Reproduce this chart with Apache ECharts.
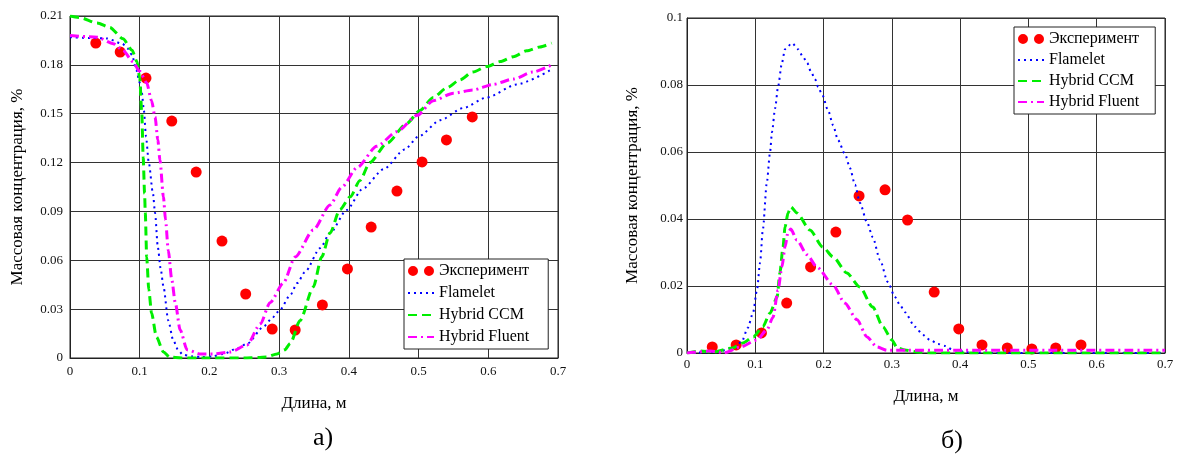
<!DOCTYPE html>
<html>
<head>
<meta charset="utf-8">
<script src="https://cdn.jsdelivr.net/npm/echarts@6/dist/echarts.min.js"></script>
<style>
  html, body { margin: 0; padding: 0; background: #fff; }
  #graph { width: 1180px; height: 460px; }
</style>
</head>
<body>
<div id="graph"></div>
<script>
// experiment points, same x positions on both plots
var expX = [0.037, 0.072, 0.109, 0.146, 0.181, 0.218, 0.252, 0.29, 0.323, 0.362, 0.398, 0.432, 0.469, 0.505, 0.54, 0.577];
var expLeftY = [0.1934, 0.1879, 0.1719, 0.1455, 0.1142, 0.0718, 0.0393, 0.0178, 0.0172, 0.0326, 0.0547, 0.0804, 0.1025, 0.1204, 0.1339, 0.148];
var expRightY = [0.0018, 0.0024, 0.006, 0.0149, 0.0257, 0.0361, 0.0469, 0.0487, 0.0397, 0.0182, 0.0072, 0.0024, 0.0015, 0.0012, 0.0015, 0.0024];

// plot а)
var flameletLeft = [[0, 0.197], [0.03, 0.1965], [0.053, 0.1962], [0.075, 0.193], [0.083, 0.19], [0.089, 0.186], [0.095, 0.177], [0.1, 0.169], [0.103, 0.163], [0.106, 0.152], [0.109, 0.136], [0.113, 0.12], [0.119, 0.101], [0.122, 0.089], [0.126, 0.068], [0.13, 0.055], [0.134, 0.044], [0.141, 0.023], [0.148, 0.011], [0.155, 0.005], [0.162, 0.002], [0.175, 0.001], [0.19, 0.0006], [0.205, 0.001], [0.22, 0.0025], [0.24, 0.006], [0.255, 0.009], [0.277, 0.019], [0.291, 0.025], [0.301, 0.0295], [0.316, 0.0387], [0.326, 0.046], [0.337, 0.0528], [0.359, 0.0675], [0.373, 0.0767], [0.397, 0.0909], [0.42, 0.104], [0.45, 0.116], [0.48, 0.128], [0.5, 0.136], [0.531, 0.146], [0.564, 0.1535], [0.598, 0.16], [0.641, 0.168], [0.69, 0.177]];
var ccmLeft = [[0, 0.21], [0.014, 0.209], [0.039, 0.2057], [0.057, 0.203], [0.076, 0.196], [0.089, 0.189], [0.096, 0.182], [0.1, 0.172], [0.103, 0.15], [0.105, 0.123], [0.107, 0.101], [0.108, 0.089], [0.11, 0.062], [0.113, 0.042], [0.117, 0.0276], [0.124, 0.0129], [0.134, 0.0037], [0.143, 0.0006], [0.16, 0], [0.2, 0], [0.25, 0], [0.27, 0.0003], [0.282, 0.0006], [0.297, 0.0025], [0.308, 0.005], [0.316, 0.009], [0.33, 0.023], [0.349, 0.0436], [0.361, 0.062], [0.373, 0.0767], [0.387, 0.091], [0.402, 0.099], [0.416, 0.109], [0.43, 0.12], [0.455, 0.132], [0.483, 0.144], [0.502, 0.152], [0.521, 0.16], [0.541, 0.166], [0.559, 0.1707], [0.578, 0.1756], [0.598, 0.179], [0.617, 0.182], [0.636, 0.185], [0.655, 0.1886], [0.674, 0.191], [0.691, 0.1934]];
var fluentLeft = [[0, 0.198], [0.039, 0.197], [0.062, 0.193], [0.076, 0.189], [0.09, 0.182], [0.1, 0.176], [0.11, 0.169], [0.117, 0.158], [0.122, 0.148], [0.126, 0.134], [0.129, 0.1216], [0.134, 0.099], [0.137, 0.085], [0.141, 0.066], [0.146, 0.048], [0.151, 0.034], [0.158, 0.0172], [0.168, 0.005], [0.187, 0.0025], [0.205, 0.0025], [0.23, 0.0037], [0.254, 0.008], [0.273, 0.021], [0.287, 0.034], [0.306, 0.046], [0.323, 0.062], [0.349, 0.0786], [0.373, 0.094], [0.39, 0.105], [0.412, 0.117], [0.44, 0.13], [0.469, 0.139], [0.498, 0.149], [0.521, 0.158], [0.55, 0.1626], [0.578, 0.1646], [0.607, 0.168], [0.636, 0.1713], [0.664, 0.1756], [0.691, 0.18]];

// plot б)
var flameletRight = [[0, 0], [0.044, 0.0003], [0.067, 0.0015], [0.08, 0.0033], [0.089, 0.0075], [0.0966, 0.0119], [0.1025, 0.0188], [0.107, 0.0269], [0.111, 0.0367], [0.117, 0.051], [0.1215, 0.0597], [0.1245, 0.066], [0.129, 0.073], [0.1335, 0.0797], [0.139, 0.0866], [0.1435, 0.0907], [0.154, 0.0925], [0.1625, 0.0907], [0.17, 0.0884], [0.176, 0.0866], [0.1816, 0.0839], [0.1874, 0.0818], [0.192, 0.0794], [0.1977, 0.0773], [0.2065, 0.0725], [0.214, 0.068], [0.221, 0.0636], [0.2314, 0.0594], [0.2387, 0.0552], [0.246, 0.0502], [0.2533, 0.0448], [0.2636, 0.039], [0.272, 0.0346], [0.2826, 0.0278], [0.294, 0.0212], [0.3046, 0.0167], [0.312, 0.0143], [0.319, 0.0122], [0.334, 0.0078], [0.3456, 0.0054], [0.3558, 0.0039], [0.3676, 0.0027], [0.3778, 0.0021], [0.3895, 0.0009], [0.41, 0.0003], [0.45, 0], [0.7, 0]];
var ccmRight = [[0, 0], [0.019, 0.0006], [0.038, 0.0003], [0.067, 0.0015], [0.082, 0.003], [0.097, 0.0048], [0.111, 0.0078], [0.1215, 0.0119], [0.132, 0.0167], [0.136, 0.0239], [0.1406, 0.0316], [0.1435, 0.0376], [0.148, 0.0418], [0.152, 0.0436], [0.161, 0.0418], [0.18, 0.0367], [0.199, 0.0316], [0.214, 0.0287], [0.234, 0.0239], [0.253, 0.0197], [0.272, 0.0137], [0.287, 0.0078], [0.3, 0.0039], [0.308, 0.0015], [0.319, 0.0009], [0.337, 0.0003], [0.36, 0], [0.7, 0]];
var fluentRight = [[0, 0], [0.009, 0.0002], [0.034, 0.0006], [0.055, 0.0001], [0.078, 0.0018], [0.1025, 0.0039], [0.117, 0.0069], [0.126, 0.0107], [0.1333, 0.0188], [0.139, 0.0257], [0.1435, 0.0316], [0.148, 0.0361], [0.152, 0.037], [0.161, 0.0337], [0.176, 0.0293], [0.19, 0.0257], [0.214, 0.0203], [0.231, 0.0149], [0.249, 0.0099], [0.2636, 0.0048], [0.278, 0.0018], [0.293, 0.0008], [0.32, 0.0008], [0.7, 0.0008]];

var seriesNames = ['Эксперимент', 'Flamelet', 'Hybrid CCM', 'Hybrid Fluent'];
var xTicks = { min: 0, max: 0.7, interval: 0.1 };
var yLeftTicks = { min: 0, max: 0.21, interval: 0.03 };
var yRightTicks = { min: 0, max: 0.1, interval: 0.02 };

var serif = '"Liberation Serif", "Times New Roman", serif';
var twoDots = 'path://M0,5a5,5 0 1,0 10,0a5,5 0 1,0 -10,0M16,5a5,5 0 1,0 10,0a5,5 0 1,0 -10,0';

function fmt(v) { return String(+v.toFixed(2)); }

function xAxisFor(idx, gap) {
	return {
		type: 'value', gridIndex: idx,
		min: xTicks.min, max: xTicks.max, interval: xTicks.interval,
		name: 'Длина, м', nameLocation: 'middle', nameGap: gap,
		nameTextStyle: { fontFamily: serif, fontSize: 17, color: '#000' },
		axisLine: { show: true, lineStyle: { color: '#222' } },
		axisTick: { show: false },
		axisLabel: { margin: idx == 0 ? 7 : 5, formatter: fmt, fontFamily: serif, fontSize: 13, color: '#111' },
		splitLine: { show: true, lineStyle: { color: '#333', width: 1 } }
	};
}

function yAxisFor(idx, ticks, gap, margin) {
	return {
		type: 'value', gridIndex: idx,
		min: ticks.min, max: ticks.max, interval: ticks.interval,
		name: 'Массовая концентрация, %', nameLocation: 'middle', nameGap: gap,
		nameTextStyle: { fontFamily: serif, fontSize: 17, color: '#000' },
		axisLine: { show: true, lineStyle: { color: '#222' } },
		axisTick: { show: false },
		axisLabel: { margin: margin, formatter: fmt, fontFamily: serif, fontSize: 13, color: '#111' },
		splitLine: { show: true, lineStyle: { color: '#333', width: 1 } }
	};
}

function lineSeries(name, idx, data, color, type, width) {
	return {
		name: name, type: 'line', xAxisIndex: idx, yAxisIndex: idx,
		data: data, symbol: 'none', showSymbol: false,
		smooth: 0.25, smoothMonotone: 'x',
		lineStyle: { color: color, type: type, width: width },
		itemStyle: { color: color }
	};
}

function expSeries(idx, ys) {
	return {
		name: seriesNames[0], type: 'scatter', xAxisIndex: idx, yAxisIndex: idx,
		data: expX.map(function (x, i) { return [x, ys[i]]; }),
		symbol: 'circle', symbolSize: 11,
		itemStyle: { color: '#ff0000', opacity: 1 }
	};
}

function legendFor(left, top, gap, padRight) {
	var noSymbol = { opacity: 0 };
	return {
		orient: 'vertical', left: left, top: top,
		padding: [3, padRight, 3, 3], itemGap: gap,
		itemWidth: 26, itemHeight: 10, itemTextGap: 8,
		backgroundColor: '#fff', borderColor: '#222', borderWidth: 1, borderRadius: 0,
		textStyle: { fontFamily: serif, fontSize: 16, color: '#000', lineHeight: 18 },
		data: [
			{ name: seriesNames[0], icon: twoDots },
			{ name: seriesNames[1], itemStyle: noSymbol },
			{ name: seriesNames[2], itemStyle: noSymbol },
			{ name: seriesNames[3], itemStyle: noSymbol }
		]
	};
}

var myChart = echarts.init(document.getElementById('graph'), null, { width: 1180, height: 460 });

var option = {
	animation: false,
	backgroundColor: '#fff',
	grid: [
		{ left: 70, top: 16, width: 488, height: 342, show: true, borderColor: '#222', borderWidth: 1 },
		{ left: 687, top: 18, width: 478, height: 335, show: true, borderColor: '#222', borderWidth: 1 }
	],
	xAxis: [xAxisFor(0, 37), xAxisFor(1, 35)],
	yAxis: [yAxisFor(0, yLeftTicks, 44, 7), yAxisFor(1, yRightTicks, 46, 4)],
	legend: [legendFor(404, 259, 4, 19), legendFor(1014, 27, 3, 16)],
	graphic: [
		{ type: 'text', x: 323, y: 438, style: { text: 'а)', font: '26px ' + serif, fill: '#000', textAlign: 'center', textVerticalAlign: 'middle' } },
		{ type: 'text', x: 952, y: 441, style: { text: 'б)', font: '26px ' + serif, fill: '#000', textAlign: 'center', textVerticalAlign: 'middle' } }
	],
	series: [
		expSeries(0, expLeftY),
		lineSeries(seriesNames[1], 0, flameletLeft, '#0000ff', [2, 4], 2),
		lineSeries(seriesNames[2], 0, ccmLeft, '#00ee00', [9, 5], 3),
		lineSeries(seriesNames[3], 0, fluentLeft, '#ff00ff', [9, 4, 2, 4], 3),
		expSeries(1, expRightY),
		lineSeries(seriesNames[1], 1, flameletRight, '#0000ff', [2, 4], 2),
		lineSeries(seriesNames[2], 1, ccmRight, '#00ee00', [9, 5], 3),
		lineSeries(seriesNames[3], 1, fluentRight, '#ff00ff', [9, 4, 2, 4], 3)
	]
};

myChart.setOption(option, true);
</script>
</body>
</html>
